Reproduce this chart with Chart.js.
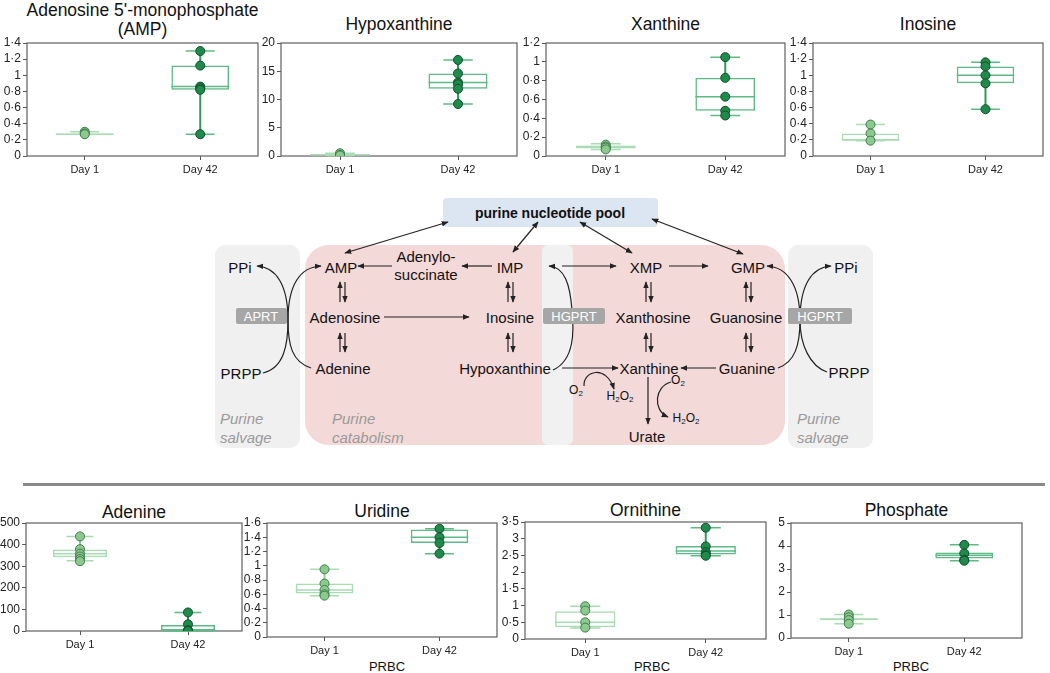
<!DOCTYPE html>
<html lang="en">
<head>
    <meta charset="UTF-8">
    <title>Purine metabolites in PRBC</title>
    <script src="https://cdn.jsdelivr.net/npm/chart.js"></script>
    <style>
        body { margin:0; background:#fff; font-family: Arial, "Liberation Sans", sans-serif; }
        #page { position:relative; width:1050px; height:673px; overflow:hidden; }
        .panel { position:absolute; }
        .ttl { position:absolute; text-align:center; font-size:17.5px; line-height:19px; color:#111; }
        .xl { position:absolute; text-align:center; font-size:13px; line-height:16px; color:#111; }
        #sep { position:absolute; left:23px; top:483px; width:1022px; height:3px; background:#8a8a8a; }
        svg text { font-family: Arial, "Liberation Sans", sans-serif; }
    </style>
</head>
<body>
<div id="page">

    <div class="ttl" style="left:7px;top:1px;width:271px;">Adenosine 5'-monophosphate<br>(AMP)</div>
    <div class="ttl" style="left:281px;top:15px;width:236px;">Hypoxanthine</div>
    <div class="ttl" style="left:546px;top:15px;width:239px;">Xanthine</div>
    <div class="ttl" style="left:813px;top:15px;width:230px;">Inosine</div>

    <div class="ttl" style="left:26px;top:503px;width:216px;">Adenine</div>
    <div class="ttl" style="left:267px;top:502px;width:230px;">Uridine</div>
    <div class="ttl" style="left:525px;top:501px;width:241px;">Ornithine</div>
    <div class="ttl" style="left:791px;top:501px;width:231px;">Phosphate</div>

    <div class="xl" style="left:267px;top:659px;width:240px;">PRBC</div>
    <div class="xl" style="left:525px;top:659px;width:254px;">PRBC</div>
    <div class="xl" style="left:791px;top:659px;width:240px;">PRBC</div>

    <div id="sep"></div>

    <!-- pathway diagram -->
    <svg width="1050" height="673" style="position:absolute;left:0;top:0;pointer-events:none;">
        <defs>
            <marker id="ah" viewBox="0 0 10 10" refX="9" refY="5" markerWidth="7" markerHeight="7"
                    markerUnits="userSpaceOnUse" orient="auto-start-reverse">
                <path d="M0,1 L10,5 L0,9 z" fill="#222"/>
            </marker>
        </defs>

        <rect x="215" y="245" width="85" height="203" rx="10" fill="#f0f0f0"/>
        <rect x="788" y="245" width="85" height="203" rx="10" fill="#f0f0f0"/>
        <rect x="305" y="245" width="480" height="200" rx="24" fill="#f4d9d9"/>
        <rect x="542" y="245" width="31" height="200" rx="6" fill="#f1f1f1"/>
        <rect x="443" y="198" width="215" height="29" rx="4" fill="#dce6f2"/>
        <text x="550" y="213" text-anchor="middle" dominant-baseline="central" font-size="14" font-weight="bold" fill="#111">purine nucleotide pool</text>

        <g stroke="#222" stroke-width="1.2" fill="none">
            <path d="M448 222 L345 253" marker-start="url(#ah)" marker-end="url(#ah)"/>
            <path d="M538 222 L513 252" marker-start="url(#ah)" marker-end="url(#ah)"/>
            <path d="M580 222 L632 253" marker-start="url(#ah)" marker-end="url(#ah)"/>
            <path d="M652 219 L743 254" marker-start="url(#ah)" marker-end="url(#ah)"/>

            <path d="M392 266 L358 266" marker-end="url(#ah)"/>
            <path d="M492 266 L462 266" marker-end="url(#ah)"/>
            <path d="M562 266 L616 266" marker-end="url(#ah)"/>
            <path d="M669 266 L708 266" marker-end="url(#ah)"/>

            <path d="M340 302 L340 282" marker-end="url(#ah)"/>
            <path d="M345 282 L345 302" marker-end="url(#ah)"/>
            <path d="M340 352 L340 333" marker-end="url(#ah)"/>
            <path d="M345 333 L345 352" marker-end="url(#ah)"/>

            <path d="M508 302 L508 282" marker-end="url(#ah)"/>
            <path d="M513 282 L513 302" marker-end="url(#ah)"/>
            <path d="M508 352 L508 333" marker-end="url(#ah)"/>
            <path d="M513 333 L513 352" marker-end="url(#ah)"/>

            <path d="M646 302 L646 282" marker-end="url(#ah)"/>
            <path d="M651 282 L651 302" marker-end="url(#ah)"/>
            <path d="M646 352 L646 333" marker-end="url(#ah)"/>
            <path d="M651 333 L651 352" marker-end="url(#ah)"/>

            <path d="M746 302 L746 282" marker-end="url(#ah)"/>
            <path d="M751 282 L751 302" marker-end="url(#ah)"/>
            <path d="M746 352 L746 333" marker-end="url(#ah)"/>
            <path d="M751 333 L751 352" marker-end="url(#ah)"/>

            <path d="M384 317 L469 317" marker-end="url(#ah)"/>
            <path d="M562 368 L618 368" marker-end="url(#ah)"/>
            <path d="M716 368 L681 368" marker-end="url(#ah)"/>
            <path d="M648 377 L648 424" marker-end="url(#ah)"/>

            <path d="M671 382 C655 386, 652 410, 668 417" marker-end="url(#ah)"/>
            <path d="M584 386 C583 371, 606 364, 614 389" marker-end="url(#ah)"/>

            <path d="M263 373 C284 368, 288 345, 288 320 C288 285, 300 267, 321 266" marker-end="url(#ah)"/>
            <path d="M311 368 C292 362, 288 345, 288 320 C288 285, 276 267, 257 266" marker-end="url(#ah)"/>
            <path d="M553 370 C575 360, 574 330, 572 310 C570 285, 565 267, 549 266" marker-end="url(#ah)"/>
            <path d="M778 368 C795 362, 800 345, 800 320 C800 285, 812 267, 831 266" marker-end="url(#ah)"/>
            <path d="M827 372 C810 366, 800 345, 800 320 C800 285, 787 267, 767 266" marker-end="url(#ah)"/>
        </g>

        <rect x="236" y="308" width="51" height="16" rx="2" fill="#a6a6a6"/>
        <rect x="543" y="308" width="62" height="16" rx="2" fill="#a6a6a6"/>
        <rect x="788" y="308" width="64" height="16" rx="2" fill="#a6a6a6"/>
        <g font-size="13" fill="#fff" text-anchor="middle" dominant-baseline="central">
            <text x="261" y="316">APRT</text>
            <text x="574" y="316">HGPRT</text>
            <text x="820" y="316">HGPRT</text>
        </g>

        <g font-size="15" fill="#111" text-anchor="middle" dominant-baseline="central">
            <text x="240" y="267">PPi</text>
            <text x="341" y="267">AMP</text>
            <text x="426" y="256">Adenylo-</text>
            <text x="426" y="274">succinate</text>
            <text x="510" y="267">IMP</text>
            <text x="646" y="267">XMP</text>
            <text x="748" y="267">GMP</text>
            <text x="846" y="267">PPi</text>
            <text x="345" y="317">Adenosine</text>
            <text x="510" y="317">Inosine</text>
            <text x="653" y="317">Xanthosine</text>
            <text x="746" y="317">Guanosine</text>
            <text x="241" y="373">PRPP</text>
            <text x="343" y="368">Adenine</text>
            <text x="505" y="368">Hypoxanthine</text>
            <text x="649" y="368">Xanthine</text>
            <text x="747" y="368">Guanine</text>
            <text x="849" y="372">PRPP</text>
            <text x="647" y="436">Urate</text>
        </g>
        <g font-size="12" fill="#111" text-anchor="middle" dominant-baseline="central">
            <text x="576" y="390">O<tspan font-size="8" dy="3">2</tspan></text>
            <text x="620" y="396">H<tspan font-size="8" dy="3">2</tspan><tspan dy="-3">O</tspan><tspan font-size="8" dy="3">2</tspan></text>
            <text x="678" y="380">O<tspan font-size="8" dy="3">2</tspan></text>
            <text x="686" y="418">H<tspan font-size="8" dy="3">2</tspan><tspan dy="-3">O</tspan><tspan font-size="8" dy="3">2</tspan></text>
        </g>
        <g font-size="15" fill="#9a9a9a" font-style="italic" dominant-baseline="central">
            <text x="220" y="418">Purine</text>
            <text x="220" y="437">salvage</text>
            <text x="332" y="418">Purine</text>
            <text x="332" y="437">catabolism</text>
            <text x="797" y="418">Purine</text>
            <text x="797" y="437">salvage</text>
        </g>
    </svg>

    <div class="panel" id="p1"><canvas id="c1"></canvas></div>
    <div class="panel" id="p2"><canvas id="c2"></canvas></div>
    <div class="panel" id="p3"><canvas id="c3"></canvas></div>
    <div class="panel" id="p4"><canvas id="c4"></canvas></div>
    <div class="panel" id="p5"><canvas id="c5"></canvas></div>
    <div class="panel" id="p6"><canvas id="c6"></canvas></div>
    <div class="panel" id="p7"><canvas id="c7"></canvas></div>
    <div class="panel" id="p8"><canvas id="c8"></canvas></div>
</div>

<script>
    const days = ['Day 1', 'Day 42'];

    // y axis: [min, max, step]
    // boxes: [min, q1, median, q3, max]
    const ampAxis = [0, 1.4, 0.2];
    const ampDay1 = [0.30, 0.28, 0.27];
    const ampDay42 = [1.30, 1.12, 0.86, 0.84, 0.82, 0.27];
    const ampBox1 = [0.27, 0.27, 0.27, 0.28, 0.30];
    const ampBox42 = [0.27, 0.82, 0.86, 1.12, 1.30];

    const hypAxis = [0, 20, 5];
    const hypDay1 = [0.5, 0.2, 0.1];
    const hypDay42 = [17.0, 14.6, 13.0, 12.7, 11.9, 9.2];
    const hypBox1 = [0.1, 0.15, 0.2, 0.3, 0.5];
    const hypBox42 = [9.2, 11.9, 13.0, 14.6, 17.0];

    const xanAxis = [0, 1.2, 0.2];
    const xanDay1 = [0.12, 0.10, 0.09, 0.07];
    const xanDay42 = [1.05, 0.83, 0.63, 0.48, 0.43];
    const xanBox1 = [0.07, 0.08, 0.10, 0.11, 0.13];
    const xanBox42 = [0.43, 0.48, 0.63, 0.83, 1.05];

    const inoAxis = [0, 1.4, 0.2];
    const inoDay1 = [0.39, 0.28, 0.19];
    const inoDay42 = [1.16, 1.11, 1.00, 0.90, 0.58];
    const inoBox1 = [0.19, 0.19, 0.20, 0.28, 0.39];
    const inoBox42 = [0.58, 0.90, 1.00, 1.11, 1.16];

    const adeAxis = [0, 500, 100];
    const adeDay1 = [438, 379, 358, 345, 333, 323];
    const adeDay42 = [86, 31, 4, 1];
    const adeBox1 = [325, 342, 358, 377, 438];
    const adeBox42 = [0, 0, 2, 28, 86];

    const uriAxis = [0, 1.6, 0.2];
    const uriDay1 = [0.95, 0.75, 0.66, 0.60, 0.58];
    const uriDay42 = [1.52, 1.40, 1.32, 1.17];
    const uriBox1 = [0.58, 0.61, 0.66, 0.75, 0.95];
    const uriBox42 = [1.17, 1.32, 1.40, 1.51, 1.52];

    const ornAxis = [0, 3.5, 0.5];
    const ornDay1 = [0.98, 0.85, 0.50, 0.34];
    const ornDay42 = [3.33, 2.77, 2.60, 2.53, 2.49];
    const ornBox1 = [0.33, 0.35, 0.50, 0.83, 0.98];
    const ornBox42 = [2.49, 2.53, 2.63, 2.78, 3.33];

    const phoAxis = [0, 5, 1];
    const phoDay1 = [1.02, 0.90, 0.78, 0.62];
    const phoDay42 = [4.05, 3.68, 3.40, 3.36];
    const phoBox1 = [0.62, 0.77, 0.82, 0.86, 1.02];
    const phoBox42 = [3.36, 3.46, 3.60, 3.72, 4.05];

    const light = { point:'#8dc88f', edge:'#3d7d4c', box:'#a9dcb3', stem:'#8fd09c' };
    const dark = { point:'#1f8a4c', edge:'#10502b', box:'#5dba86', stem:'#2f9a5e' };

    // plot area rectangles in page pixels: [left, top, right, bottom]
    const panels = [
        ['p1', 'c1', [27, 43, 258, 156], ampAxis, ampDay1, ampDay42, ampBox1, ampBox42],
        ['p2', 'c2', [281, 43, 517, 156], hypAxis, hypDay1, hypDay42, hypBox1, hypBox42],
        ['p3', 'c3', [546, 43, 785, 156], xanAxis, xanDay1, xanDay42, xanBox1, xanBox42],
        ['p4', 'c4', [813, 43, 1043, 156], inoAxis, inoDay1, inoDay42, inoBox1, inoBox42],
        ['p5', 'c5', [26, 523, 242, 631], adeAxis, adeDay1, adeDay42, adeBox1, adeBox42],
        ['p6', 'c6', [267, 523, 497, 637], uriAxis, uriDay1, uriDay42, uriBox1, uriBox42],
        ['p7', 'c7', [525, 522, 766, 639], ornAxis, ornDay1, ornDay42, ornBox1, ornBox42],
        ['p8', 'c8', [791, 523, 1022, 638], phoAxis, phoDay1, phoDay42, phoBox1, phoBox42]
    ];

    // frame around plot area
    const framePlugin = {
        id: 'frame',
        beforeDatasetsDraw(chart) {
            const a = chart.chartArea, ctx = chart.ctx;
            ctx.save();
            ctx.strokeStyle = '#5f5f5f';
            ctx.lineWidth = 1.2;
            ctx.strokeRect(a.left, a.top, a.right - a.left, a.bottom - a.top);
            ctx.restore();
        }
    };

    // whiskers + median, drawn after the box bars
    const whiskerPlugin = {
        id: 'whiskers',
        afterDatasetDraw(chart, args, opts) {
            if (args.meta.type !== 'bar') return;
            const x = chart.scales.x, y = chart.scales.y, ctx = chart.ctx;
            const half = (x.getPixelForValue(1) - x.getPixelForValue(0)) / 4;
            opts.stats.forEach((s, i) => {
                const cx = x.getPixelForValue(i);
                const c = i === 0 ? light : dark;
                ctx.save();
                ctx.lineWidth = 1.5;
                ctx.strokeStyle = c.box;
                ctx.beginPath();
                [s[0], s[4]].forEach(v => {
                    const py = y.getPixelForValue(v);
                    ctx.moveTo(cx - half / 2, py);
                    ctx.lineTo(cx + half / 2, py);
                });
                const pm = y.getPixelForValue(s[2]);
                ctx.moveTo(cx - half, pm);
                ctx.lineTo(cx + half, pm);
                ctx.stroke();
                ctx.lineWidth = 2;
                ctx.strokeStyle = c.stem;
                ctx.beginPath();
                ctx.moveTo(cx, y.getPixelForValue(s[0]));
                ctx.lineTo(cx, y.getPixelForValue(s[1]));
                ctx.moveTo(cx, y.getPixelForValue(s[3]));
                ctx.lineTo(cx, y.getPixelForValue(s[4]));
                ctx.stroke();
                ctx.restore();
            });
        }
    };

    const AX_W = 30, AX_H = 24, PAD_T = 10, PAD_R = 6;

    const drawPanel = (divId, canvasId, r, axis, d1, d42, b1, b42) => {
        const w = (r[2] - r[0]) + AX_W + PAD_R;
        const h = (r[3] - r[1]) + PAD_T + AX_H;
        const div = document.getElementById(divId);
        div.style.left = (r[0] - AX_W) + 'px';
        div.style.top = (r[1] - PAD_T) + 'px';
        div.style.width = w + 'px';
        div.style.height = h + 'px';
        const cv = document.getElementById(canvasId);
        cv.width = w;
        cv.height = h;

        const pts = d1.map(v => ({ x: days[0], y: v })).concat(d42.map(v => ({ x: days[1], y: v })));
        const fills = d1.map(() => light.point).concat(d42.map(() => dark.point));
        const edges = d1.map(() => light.edge).concat(d42.map(() => dark.edge));

        new Chart(cv.getContext('2d'), {
            type: 'bar',
            data: {
                labels: days,
                datasets: [
                    {
                        type: 'line',
                        data: pts,
                        showLine: false,
                        pointRadius: 4.5,
                        pointBorderWidth: 1,
                        pointBackgroundColor: fills,
                        pointBorderColor: edges,
                        order: 0
                    },
                    {
                        type: 'bar',
                        data: [[b1[1], b1[3]], [b42[1], b42[3]]],
                        backgroundColor: 'rgba(255,255,255,0)',
                        borderColor: [light.box, dark.box],
                        borderWidth: 1.5,
                        borderSkipped: false,
                        barPercentage: 0.5,
                        categoryPercentage: 1,
                        order: 1
                    }
                ]
            },
            options: {
                responsive: false,
                animation: false,
                devicePixelRatio: 1,
                layout: { padding: { top: PAD_T, right: PAD_R, left: 0, bottom: 0 } },
                plugins: {
                    legend: { display: false },
                    tooltip: { enabled: false },
                    whiskers: { stats: [b1, b42] }
                },
                scales: {
                    x: {
                        offset: true,
                        grid: { offset: false, drawOnChartArea: false, tickLength: 4, color: '#555' },
                        border: { display: false },
                        ticks: { color: '#222', font: { size: 11, family: 'Arial, "Liberation Sans", sans-serif' }, padding: 3 },
                        afterFit: s => { s.height = AX_H; }
                    },
                    y: {
                        min: axis[0],
                        max: axis[1],
                        grid: { drawOnChartArea: false, tickLength: 4, color: '#555' },
                        border: { display: false },
                        ticks: {
                            stepSize: axis[2],
                            autoSkip: false,
                            color: '#222',
                            padding: 2,
                            font: { size: 12, family: 'Arial, "Liberation Sans", sans-serif' },
                            callback: v => String(+v.toFixed(2)).replace('.', '·')
                        },
                        afterFit: s => { s.width = AX_W; }
                    }
                }
            },
            plugins: [framePlugin, whiskerPlugin]
        });
    };

    panels.forEach(p => drawPanel(...p));
</script>
</body>
</html>
